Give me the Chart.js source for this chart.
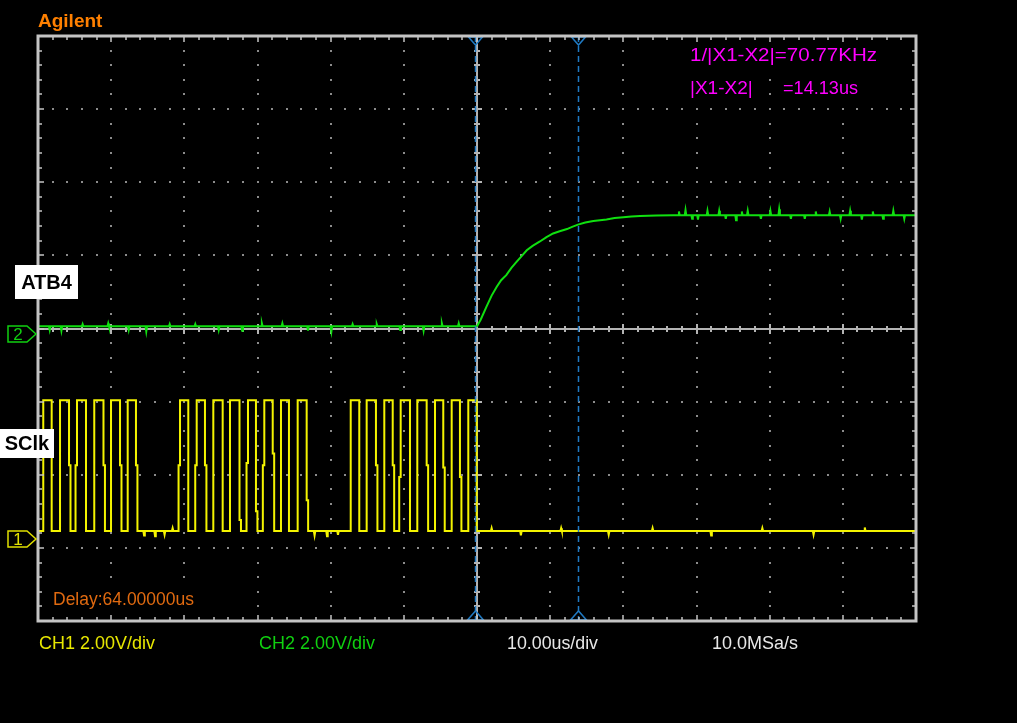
<!DOCTYPE html>
<html>
<head>
<meta charset="utf-8">
<title>Agilent scope capture</title>
<script src="https://cdn.jsdelivr.net/npm/chart.js@4.4.1/dist/chart.umd.min.js"></script>
<style>
    html, body { margin: 0; padding: 0; background: #000; }
    canvas { display: block; }
</style>
</head>
<body>
<canvas id="scope" width="1017" height="723"></canvas>
<script>
// Screen is 12 x 8 divisions, 10 us/div, values in divisions
const timeMin = 0;
const timeMax = 120;
const divMin = -4;
const divMax = 4;

// CH1 (SClk) - edge times in us
const ch1High = -0.98;
const ch1Low = -2.77;
const ch1Rise = [0.72, 3.01, 5.33, 7.69, 9.98, 12.26,
    19.41, 21.69, 23.96, 26.24, 28.70, 30.93, 33.21, 35.49,
    42.74, 44.92, 47.33, 49.57, 51.84, 54.26, 56.54, 58.81];
const ch1Fall = [1.87, 4.24, 6.56, 8.95, 11.21, 13.39,
    20.54, 22.82, 25.24, 27.54, 29.79, 32.08, 34.30, 36.72,
    43.91, 46.19, 48.48, 50.84, 53.12, 55.39, 57.67, 59.96];
// intermediate sample on the edge (null = clean edge)
const ch1RiseMid = [null, null, -1.87, null, null, null,
    -1.87, -1.87, null, null, -1.84, -1.87, null, null,
    null, null, null, -2.03, null, null, null, null];
const ch1FallMid = [null, -1.87, null, -1.87, -1.87, -1.87,
    null, -1.87, null, -2.62, -2.50, -1.71, null, -2.35,
    null, -1.87, -1.87, null, -1.87, -1.90, -2.03, null];
const ch1SpikeTime = [14.5, 16.0, 17.3, 18.4, 37.8, 39.5, 41.0, 62.0, 66.0, 71.5, 78.0, 84.0, 92.0, 99.0, 106.0, 113.0];
const ch1SpikeLevel = [-2.83, -2.84, -2.82, -2.73, -2.83, -2.84, -2.82, -2.73, -2.83, -2.73, -2.82, -2.73, -2.83, -2.73, -2.82, -2.72];

// CH2 (ATB4) - RC rise after the last clock edge
const ch2Time = [0, 60.0, 60.5, 61.3, 62.0, 62.7, 63.3, 64.0, 64.7, 65.4, 66.1, 66.8, 67.6,
    68.6, 69.5, 70.4, 71.3, 72.3, 73.0, 73.8, 74.8, 75.9, 76.8, 77.7, 78.8, 80.0, 81.1, 82.3, 84.5, 86.8, 120];
const ch2Level = [0.03, 0.03, 0.12, 0.30, 0.45, 0.57, 0.66, 0.73, 0.83, 0.91, 0.99, 1.07, 1.13,
    1.19, 1.25, 1.30, 1.33, 1.36, 1.39, 1.42, 1.45, 1.47, 1.48, 1.49, 1.51, 1.52, 1.53, 1.54, 1.545, 1.55, 1.55];
const ch2SpikeTime = [1.6, 3.2, 6.1, 9.6, 12.4, 14.8, 18.0, 21.5, 24.7, 27.9, 30.6, 33.4, 36.9, 40.1, 43.0,
    46.3, 49.5, 52.7, 55.2, 57.5,
    87.6, 88.5, 89.4, 90.2, 91.5, 93.1, 94.0, 95.4, 96.2, 97.0, 98.8, 100.1, 101.3, 102.9,
    104.8, 106.3, 108.2, 109.7, 111.0, 112.6, 114.1, 115.5, 116.9, 118.4];
const ch2SpikeLevel = [-0.02, -0.03, 0.06, 0.07, -0.02, -0.04, 0.06, 0.06, -0.02, -0.03, 0.07, 0.07, -0.03, -0.04, 0.06,
    0.06, -0.02, -0.03, 0.07, 0.07,
    1.60, 1.62, 1.50, 1.49, 1.61, 1.61, 1.50, 1.48, 1.60, 1.61, 1.50, 1.61, 1.63, 1.50,
    1.50, 1.60, 1.60, 1.50, 1.61, 1.49, 1.60, 1.50, 1.61, 1.50];

// cursors X1 / X2 in us
const cursorTimes = [59.7, 73.8];
// channel ground markers in divisions
const ch1Marker = -2.88;
const ch2Marker = -0.08;

const fontName = '"Liberation Sans", Arial, sans-serif';

function buildClock() {
    const pts = [{ x: timeMin, y: ch1Low }];
    ch1Rise.forEach((rise, i) => {
        if (ch1RiseMid[i] !== null) {
            pts.push({ x: rise - 0.2, y: ch1Low });
            pts.push({ x: rise - 0.2, y: ch1RiseMid[i] });
            pts.push({ x: rise, y: ch1RiseMid[i] });
        } else {
            pts.push({ x: rise, y: ch1Low });
        }
        pts.push({ x: rise, y: ch1High });
        const fall = ch1Fall[i];
        pts.push({ x: fall, y: ch1High });
        if (ch1FallMid[i] !== null) {
            pts.push({ x: fall, y: ch1FallMid[i] });
            pts.push({ x: fall + 0.2, y: ch1FallMid[i] });
            pts.push({ x: fall + 0.2, y: ch1Low });
        } else {
            pts.push({ x: fall, y: ch1Low });
        }
    });
    ch1SpikeTime.forEach((t, i) => {
        pts.push({ x: t - 0.1, y: ch1Low });
        pts.push({ x: t, y: ch1SpikeLevel[i] });
        pts.push({ x: t + 0.1, y: ch1Low });
    });
    pts.push({ x: timeMax, y: ch1Low });
    // stable sort keeps edge order for equal times
    return pts.map((p, i) => ({ p, i }))
        .sort((a, b) => a.p.x - b.p.x || a.i - b.i)
        .map(o => o.p);
}

function buildRamp() {
    const pts = ch2Time.map((t, i) => ({ x: t, y: ch2Level[i] }));
    ch2SpikeTime.forEach((t, i) => {
        const base = t < 60 ? ch2Level[0] : ch2Level[ch2Level.length - 1];
        pts.push({ x: t - 0.1, y: base });
        pts.push({ x: t, y: ch2SpikeLevel[i] });
        pts.push({ x: t + 0.1, y: base });
    });
    return pts.sort((a, b) => a.x - b.x);
}

// text on a black patch so the graticule dots don't show through
function scopeText(ctx, text, x, y, color, font, width) {
    ctx.font = font;
    const natural = ctx.measureText(text).width;
    const w = width || natural;
    ctx.fillStyle = '#000';
    ctx.fillRect(x - 1, y - 10, w + 2, 20);
    ctx.save();
    ctx.translate(x, y);
    ctx.scale(w / natural, 1);
    ctx.fillStyle = color;
    ctx.textAlign = 'left';
    ctx.textBaseline = 'middle';
    ctx.fillText(text, 0, 0);
    ctx.restore();
}

function marker(ctx, x0, cy, color, label) {
    ctx.strokeStyle = color;
    ctx.lineWidth = 1.5;
    ctx.beginPath();
    ctx.moveTo(8, cy - 8);
    ctx.lineTo(27, cy - 8);
    ctx.lineTo(x0 - 2, cy);
    ctx.lineTo(27, cy + 8);
    ctx.lineTo(8, cy + 8);
    ctx.closePath();
    ctx.stroke();
    ctx.fillStyle = color;
    ctx.font = '17px ' + fontName;
    ctx.textAlign = 'center';
    ctx.textBaseline = 'middle';
    ctx.fillText(label, 18, cy + 1);
}

function labelBox(ctx, x, y, w, h, text) {
    ctx.fillStyle = '#ffffff';
    ctx.fillRect(x, y, w, h);
    ctx.fillStyle = '#000000';
    ctx.font = 'bold 20px ' + fontName;
    ctx.textAlign = 'center';
    ctx.textBaseline = 'middle';
    ctx.fillText(text, x + w / 2, y + h / 2 + 1);
}

const scopePlugin = {
    id: 'scope',
    beforeDraw(chart) {
        const ctx = chart.ctx;
        ctx.save();
        ctx.fillStyle = '#000';
        ctx.fillRect(0, 0, chart.width, chart.height);
        ctx.restore();
    },
    beforeDatasetsDraw(chart) {
        const ctx = chart.ctx;
        const xs = chart.scales.x;
        const ys = chart.scales.y;
        ctx.save();
        // dotted graticule
        ctx.fillStyle = '#8c8c8c';
        for (let d = 1; d < 12; d++) {
            if (d === 6) continue;
            const x = Math.round(xs.getPixelForValue(d * 10));
            for (let m = 1; m < 40; m++) {
                const y = Math.round(ys.getPixelForValue(divMin + m * 0.2));
                ctx.fillRect(x - 1, y - 1, 2, 2);
            }
        }
        for (let d = -3; d <= 3; d++) {
            if (d === 0) continue;
            const y = Math.round(ys.getPixelForValue(d));
            for (let m = 1; m < 60; m++) {
                const x = Math.round(xs.getPixelForValue(m * 2));
                ctx.fillRect(x - 1, y - 1, 2, 2);
            }
        }
        // centre cross with ticks
        const cx = Math.round(xs.getPixelForValue(60));
        const cy = Math.round(ys.getPixelForValue(0));
        ctx.strokeStyle = '#b4b4b4';
        ctx.lineWidth = 2;
        ctx.beginPath();
        ctx.moveTo(chart.chartArea.left, cy);
        ctx.lineTo(chart.chartArea.right, cy);
        ctx.moveTo(cx, chart.chartArea.top);
        ctx.lineTo(cx, chart.chartArea.bottom);
        for (let m = 1; m < 60; m++) {
            const x = Math.round(xs.getPixelForValue(m * 2));
            const len = m % 5 === 0 ? 5 : 3;
            ctx.moveTo(x, cy - len);
            ctx.lineTo(x, cy + len);
        }
        for (let m = 1; m < 40; m++) {
            const y = Math.round(ys.getPixelForValue(divMin + m * 0.2));
            const len = m % 5 === 0 ? 5 : 3;
            ctx.moveTo(cx - len, y);
            ctx.lineTo(cx + len, y);
        }
        ctx.stroke();
        ctx.restore();
    },
    afterDatasetsDraw(chart) {
        const ctx = chart.ctx;
        const xs = chart.scales.x;
        const ys = chart.scales.y;
        const area = chart.chartArea;
        ctx.save();

        // cursors
        ctx.strokeStyle = '#1f7ac4';
        ctx.lineWidth = 1.5;
        cursorTimes.forEach(t => {
            const x = Math.round(xs.getPixelForValue(t)) + 0.5;
            ctx.setLineDash([6, 4]);
            ctx.beginPath();
            ctx.moveTo(x, area.top);
            ctx.lineTo(x, area.bottom);
            ctx.stroke();
            ctx.setLineDash([]);
            ctx.beginPath();
            ctx.moveTo(x - 7, area.top + 1);
            ctx.lineTo(x + 7, area.top + 1);
            ctx.lineTo(x, area.top + 9);
            ctx.closePath();
            ctx.moveTo(x - 8, area.bottom - 1);
            ctx.lineTo(x + 8, area.bottom - 1);
            ctx.lineTo(x, area.bottom - 10);
            ctx.closePath();
            ctx.stroke();
        });

        // border with inward ticks
        ctx.strokeStyle = '#c4c4c4';
        ctx.lineWidth = 3;
        ctx.strokeRect(area.left, area.top, area.right - area.left, area.bottom - area.top);
        ctx.lineWidth = 1.5;
        ctx.beginPath();
        for (let m = 1; m < 60; m++) {
            const x = Math.round(xs.getPixelForValue(m * 2));
            const len = m % 5 === 0 ? 6 : 4;
            ctx.moveTo(x, area.top);
            ctx.lineTo(x, area.top + len);
            ctx.moveTo(x, area.bottom);
            ctx.lineTo(x, area.bottom - len);
        }
        for (let m = 1; m < 40; m++) {
            const y = Math.round(ys.getPixelForValue(divMin + m * 0.2));
            const len = m % 5 === 0 ? 6 : 4;
            ctx.moveTo(area.left, y);
            ctx.lineTo(area.left + len, y);
            ctx.moveTo(area.right, y);
            ctx.lineTo(area.right - len, y);
        }
        ctx.stroke();

        // texts
        scopeText(ctx, 'Agilent', 38, 22, '#ff8000', 'bold 19px ' + fontName);
        const magenta = '#ff00ff';
        const cursorFont = '19px ' + fontName;
        scopeText(ctx, '1/|X1-X2|=70.77KHz', 690, 56, magenta, cursorFont, 187);
        scopeText(ctx, '|X1-X2|', 690, 89, magenta, cursorFont);
        scopeText(ctx, '=14.13us', 783, 89, magenta, cursorFont, 75);

        const infoFont = '18px ' + fontName;
        scopeText(ctx, 'Delay:64.00000us', 53, 600, '#e06a10', infoFont, 141);
        scopeText(ctx, 'CH1 2.00V/div', 39, 644, '#e8e800', infoFont, 116);
        scopeText(ctx, 'CH2 2.00V/div', 259, 644, '#10d010', infoFont, 116);
        scopeText(ctx, '10.00us/div', 507, 644, '#e8e8e8', infoFont, 91);
        scopeText(ctx, '10.0MSa/s', 712, 644, '#e8e8e8', infoFont, 86);

        // channel labels and ground markers
        labelBox(ctx, 15, 265, 63, 34, 'ATB4');
        labelBox(ctx, 0, 429, 54, 29, 'SClk');
        marker(ctx, area.left, Math.round(ys.getPixelForValue(ch2Marker)), '#10d010', '2');
        marker(ctx, area.left, Math.round(ys.getPixelForValue(ch1Marker)), '#e0e000', '1');

        ctx.restore();
    }
};

const chart = new Chart(document.getElementById('scope'), {
    type: 'line',
    data: {
        datasets: [
            {
                label: 'CH1 SClk',
                data: buildClock(),
                borderColor: '#f4f400',
                borderWidth: 2,
                pointRadius: 0,
                tension: 0,
                fill: false
            },
            {
                label: 'CH2 ATB4',
                data: buildRamp(),
                borderColor: '#10e010',
                borderWidth: 2,
                pointRadius: 0,
                tension: 0,
                fill: false
            }
        ]
    },
    options: {
        responsive: false,
        animation: false,
        devicePixelRatio: 1,
        parsing: false,
        layout: { padding: { left: 38, right: 101, top: 36, bottom: 102 } },
        plugins: {
            legend: { display: false },
            tooltip: { enabled: false },
            title: { display: false }
        },
        scales: {
            x: { type: 'linear', min: timeMin, max: timeMax, display: false },
            y: { type: 'linear', min: divMin, max: divMax, display: false }
        }
    },
    plugins: [scopePlugin]
});
</script>
</body>
</html>
